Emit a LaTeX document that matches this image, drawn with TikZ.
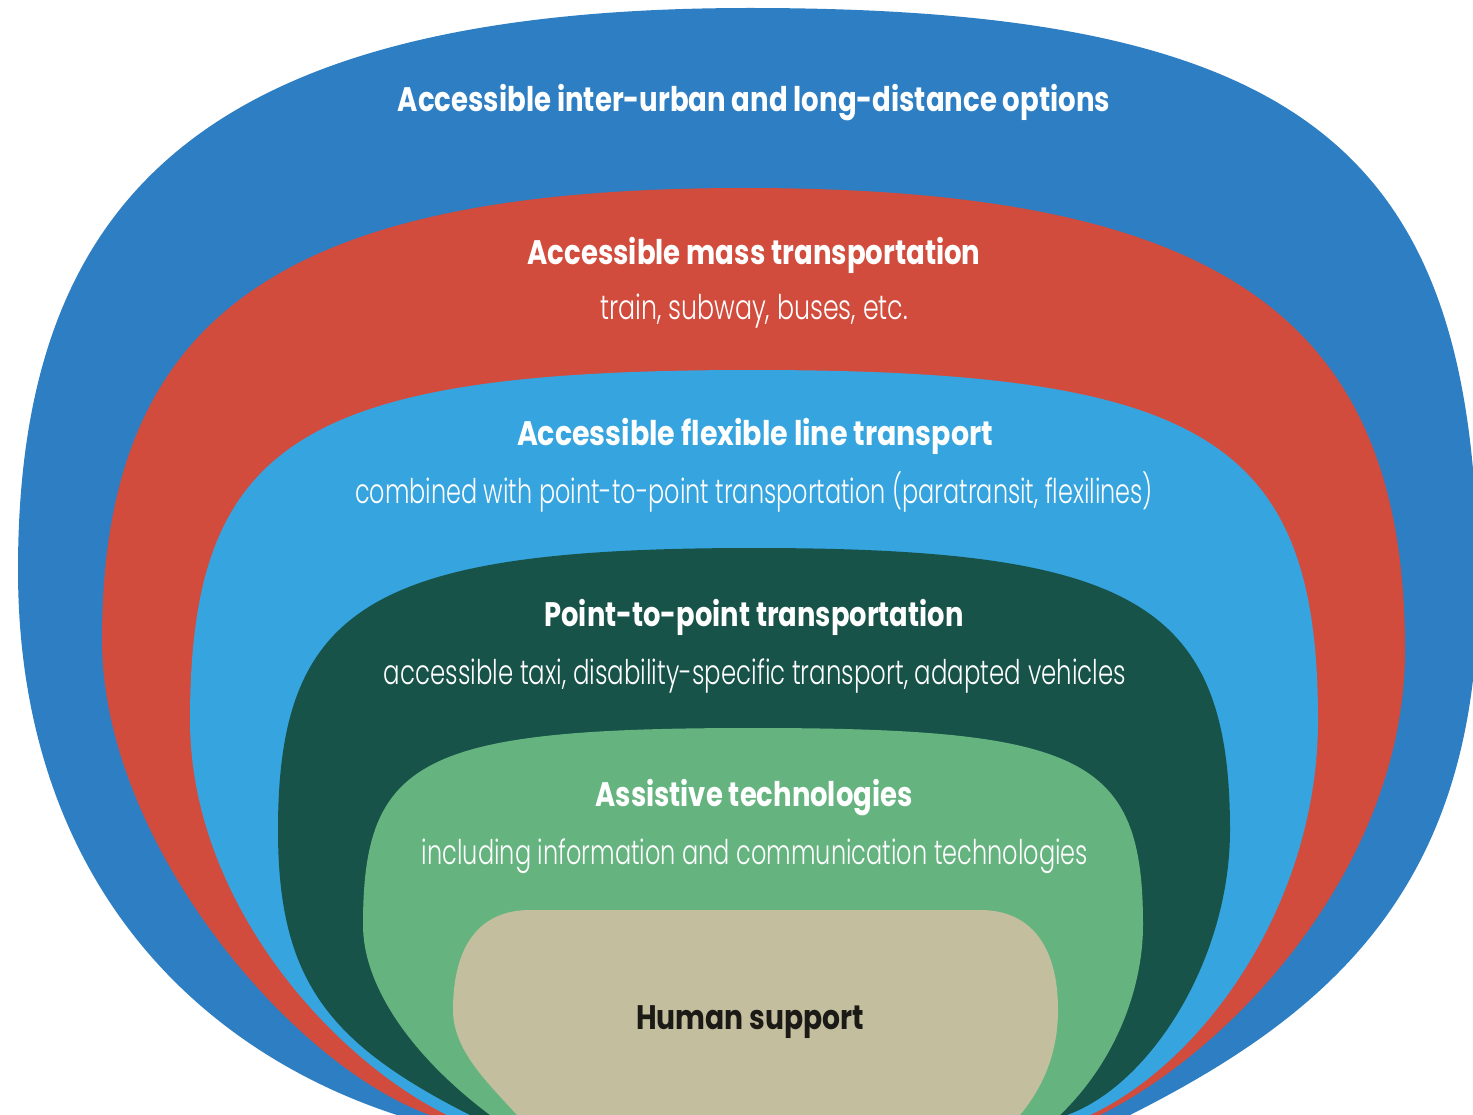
\documentclass[tikz,border=0pt]{standalone}
\usepackage{graphicx}
\usepackage{fontspec}
\setmainfont{Poppins}
\newfontfamily\lightfont{Poppins Light}
\definecolor{cBlue}{RGB}{45,126,194}
\definecolor{cRed}{RGB}{210,76,62}
\definecolor{cLBlue}{RGB}{54,164,222}
\definecolor{cDGreen}{RGB}{23,83,73}
\definecolor{cLGreen}{RGB}{101,180,127}
\definecolor{cTan}{RGB}{195,190,157}
\definecolor{cInk}{RGB}{28,26,23}
\tikzset{
  ttl/.style={anchor=base, inner sep=0pt, text=white, font=\bfseries\fontsize{34}{40}\selectfont},
  subt/.style={anchor=base, inner sep=0pt, text=white, font=\lightfont\fontsize{34}{40}\selectfont},
}
\newcommand{\fitw}[2]{\resizebox{#1pt}{\height}{#2}}
\begin{document}
\begin{tikzpicture}[x=1pt,y=-1pt]
\useasboundingbox (0,0) rectangle (1473,1115);
\clip (0,0) rectangle (1473,1115);
% outer blue
\fill[cBlue] (750,8) .. controls (1320,8) and (1478,160) .. (1478,590)
  .. controls (1478,890) and (1326,1016) .. (1130,1115) -- (1130,1140) -- (397,1140) -- (397,1115)
  .. controls (188,1047) and (18,870) .. (18,570)
  .. controls (18,200) and (201,8) .. cycle;
% red
\fill[cRed] (745,188) .. controls (1220,188) and (1405,317) .. (1405,650)
  .. controls (1405,860) and (1240,1045) .. (1100,1115) -- (1100,1140) -- (430,1140) -- (430,1115)
  .. controls (289,1064) and (102,840) .. (102,640)
  .. controls (102,315) and (282,188) .. cycle;
% light blue
\fill[cLBlue] (752,370) .. controls (1205,370) and (1318,440) .. (1318,720)
  .. controls (1318,900) and (1207,1060) .. (1090,1115) -- (1090,1140) -- (447,1140) -- (447,1115)
  .. controls (330,1057) and (190,900) .. (190,720)
  .. controls (190,440) and (302,370) .. cycle;
% dark green
\fill[cDGreen] (754,548) .. controls (1135,548) and (1230,604) .. (1230,830)
  .. controls (1230,960) and (1150,1085) .. (1067,1115) -- (1067,1140) -- (470,1140) -- (470,1115)
  .. controls (328,1043) and (278,980) .. (278,830)
  .. controls (278,604) and (373,548) .. cycle;
% light green
\fill[cLGreen] (753,728) .. controls (1085,728) and (1143,758) .. (1143,925)
  .. controls (1143,985) and (1118,1059) .. (1060,1115) -- (1060,1140) -- (490,1140) -- (490,1115)
  .. controls (410,1055) and (363,985) .. (363,925)
  .. controls (363,758) and (421,728) .. cycle;
% tan
\fill[cTan] (755,910) -- (980,910) .. controls (1030,910) and (1058,945) .. (1058,1010)
  .. controls (1058,1050) and (1045,1085) .. (1020,1115) -- (1020,1140) -- (517,1140) -- (517,1115)
  .. controls (487,1082) and (453,1050) .. (453,1010)
  .. controls (453,945) and (480,910) .. (530,910) -- cycle;
% texts
\node[ttl] (t1) at (754,112) {\fitw{712}{Accessible inter-urban and long-distance options}};
\node[ttl] (t2) at (754,265) {\fitw{453}{Accessible mass transportation}};
\node[subt] (s2) at (754,320) {\fitw{308}{train, subway, buses, etc.}};
\node[ttl] (t3) at (755,445) {\fitw{476}{Accessible flexible line transport}};
\node[subt] (s3) at (754,503) {\fitw{798}{combined with point-to-point transportation (paratransit, flexilines)}};
\node[ttl] (t4) at (754,626) {\fitw{419}{Point-to-point transportation}};
\node[subt] (s4) at (755,684) {\fitw{742}{accessible taxi, disability-specific transport, adapted vehicles}};
\node[ttl] (t5) at (754,806) {\fitw{317}{Assistive technologies}};
\node[subt] (s5) at (755,864) {\fitw{666}{including information and communication technologies}};
\node[ttl, text=cInk] (t6) at (750,1029) {\fitw{228}{Human support}};
\end{tikzpicture}
\end{document}
